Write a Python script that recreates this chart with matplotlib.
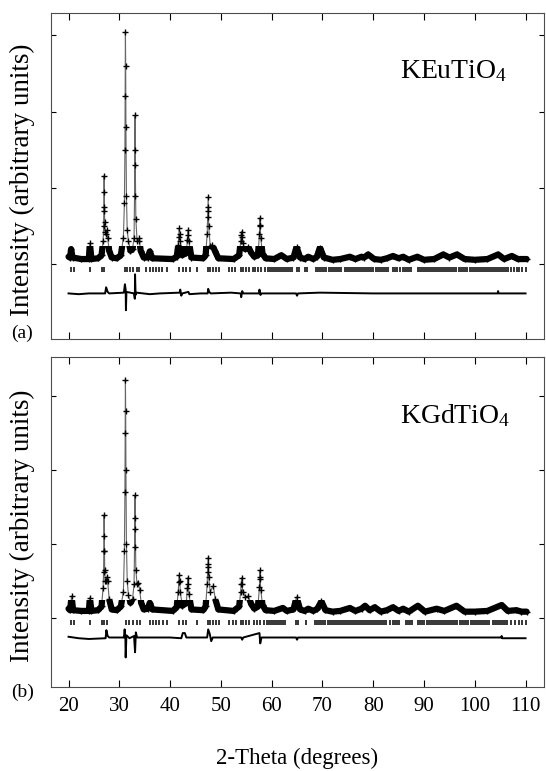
import matplotlib
matplotlib.use("Agg")
import matplotlib.pyplot as plt
from matplotlib.patches import Rectangle

plt.rcParams['font.family'] = 'Liberation Serif'
plt.rcParams['mathtext.fontset'] = 'custom'
plt.rcParams['mathtext.rm'] = 'Liberation Serif'
plt.rcParams['mathtext.default'] = 'rm'

eu_obs = [(20.0, 0.10), (20.3, 0.09), (20.5, 0.20), (20.8, 0.09), (22.5, 0.07), (24.0, 0.07),
          (24.2, 0.28), (24.5, 0.07), (25.8, 0.08), (26.5, 0.12), (26.8, 0.30), (26.9, 0.50),
          (26.95, 0.75), (27.0, 1.16), (27.04, 0.95), (27.08, 0.70), (27.12, 0.55), (27.2, 0.42),
          (27.4, 0.40), (27.5, 0.45), (27.7, 0.35), (28.0, 0.18), (28.5, 0.09), (29.5, 0.08),
          (30.3, 0.12), (30.8, 0.35), (31.0, 0.80), (31.1, 1.50), (31.15, 2.20), (31.2, 3.04),
          (31.25, 2.60), (31.3, 1.80), (31.4, 0.90), (31.55, 0.45), (31.8, 0.30), (32.2, 0.18),
          (32.6, 0.20), (32.9, 0.35), (33.0, 0.90), (33.05, 1.50), (33.1, 1.95), (33.15, 1.30),
          (33.25, 0.60), (33.5, 0.30), (33.8, 0.30), (33.9, 0.34), (34.2, 0.18), (34.8, 0.09),
          (35.6, 0.09), (36.0, 0.17), (36.5, 0.08), (40.5, 0.07), (41.3, 0.10), (41.6, 0.25),
          (41.7, 0.36), (41.8, 0.47), (41.9, 0.40), (42.0, 0.30), (42.4, 0.12), (43.2, 0.15),
          (43.4, 0.32), (43.5, 0.45), (43.6, 0.38), (43.7, 0.30), (44.2, 0.09), (46.5, 0.08),
          (47.0, 0.12), (47.3, 0.40), (47.4, 0.62), (47.45, 0.75), (47.5, 0.88), (47.55, 0.70),
          (47.6, 0.50), (47.9, 0.24), (48.3, 0.26), (48.8, 0.18), (49.5, 0.08), (52.5, 0.07),
          (53.6, 0.12), (53.9, 0.30), (54.0, 0.38), (54.1, 0.43), (54.2, 0.36), (54.3, 0.28),
          (54.8, 0.20), (55.4, 0.23), (56.0, 0.15), (56.6, 0.10), (57.3, 0.12), (57.6, 0.40),
          (57.65, 0.52), (57.7, 0.61), (57.75, 0.50), (57.85, 0.35), (58.2, 0.14), (58.8, 0.08),
          (60.5, 0.07), (61.9, 0.12), (63.0, 0.07), (64.3, 0.09), (64.9, 0.23), (65.6, 0.09),
          (66.5, 0.07), (67.2, 0.10), (68.2, 0.07), (68.9, 0.10), (69.5, 0.22), (70.3, 0.09),
          (72.0, 0.06), (73.5, 0.07), (75.4, 0.10), (76.5, 0.07), (77.7, 0.10), (78.2, 0.09),
          (79.0, 0.13), (80.2, 0.07), (81.5, 0.06), (82.7, 0.08), (83.9, 0.11), (85.0, 0.08),
          (85.9, 0.10), (87.0, 0.06), (88.7, 0.10), (90.0, 0.06), (92.0, 0.07), (93.8, 0.13),
          (95.0, 0.09), (96.5, 0.13), (98.0, 0.07), (100.0, 0.06), (102.5, 0.07), (104.6, 0.13),
          (105.8, 0.07), (107.3, 0.11), (108.5, 0.07), (110.2, 0.07)]
eu_diff = [(20.0, -0.38), (22.0, -0.39), (24.0, -0.38), (27.2, -0.38), (27.4, -0.30), (27.7, -0.36),
           (28.0, -0.38), (30.9, -0.37), (31.1, -0.26), (31.25, -0.33), (31.3, -0.60), (31.4, -0.36),
           (32.9, -0.38), (33.05, -0.45), (33.1, -0.13), (33.2, -0.40), (33.4, -0.37), (36.0, -0.39),
           (38.0, -0.38), (41.9, -0.37), (42.0, -0.33), (42.2, -0.41), (42.4, -0.38), (43.6, -0.36),
           (43.8, -0.39), (46.0, -0.38), (47.4, -0.38), (47.5, -0.32), (47.7, -0.36), (48.0, -0.38),
           (52.0, -0.37), (53.9, -0.38), (54.0, -0.43), (54.2, -0.35), (54.4, -0.38), (57.5, -0.38),
           (57.6, -0.33), (57.8, -0.40), (58.0, -0.38), (64.8, -0.38), (65.0, -0.41), (65.2, -0.38),
           (69.5, -0.37), (80.0, -0.38), (90.0, -0.38), (104.5, -0.38), (104.6, -0.35),
           (104.7, -0.38), (110.0, -0.38)]
eu_refl = [20.4, 21.1, 24.2, 26.5, 27.0, 31.1, 31.6, 32.2, 32.6, 33.4, 33.8, 35.2, 36.0, 36.7, 37.3,
           37.9, 38.5, 39.3, 41.8, 42.5, 43.2, 44.0, 45.3, 47.4, 47.8, 48.4, 49.0, 49.6, 51.6, 52.1,
           52.8, 53.9, 54.3, 54.9, 55.5, 56.3, 56.8, 57.4, 57.9, 58.6, 59.2, 59.6, 60.0, 60.4, 60.8,
           61.2, 61.6, 62.0, 62.4, 62.8, 63.2, 63.6, 64.0, 64.9, 65.3, 66.5, 67.0, 68.8, 69.2, 69.6,
           70.0, 70.4, 70.8, 71.2, 71.6, 72.0, 72.4, 72.8, 73.2, 73.6, 74.4, 74.8, 75.2, 75.6, 76.0,
           76.4, 76.8, 77.2, 77.6, 78.0, 78.4, 78.8, 79.2, 79.6, 80.0, 80.6, 81.0, 81.4, 81.8, 82.2,
           82.6, 83.0, 83.9, 84.3, 84.7, 85.2, 85.9, 86.3, 86.7, 87.1, 87.5, 88.8, 89.2, 89.6, 90.0,
           90.4, 90.8, 91.2, 91.6, 92.0, 92.4, 92.8, 93.2, 93.6, 94.0, 94.4, 94.8, 95.2, 95.6, 96.0,
           96.4, 96.8, 97.2, 97.6, 98.0, 98.4, 99.0, 99.4, 99.8, 100.2, 100.6, 101.0, 101.4, 101.8,
           102.2, 102.6, 103.0, 103.4, 103.8, 104.2, 104.6, 105.0, 105.4, 105.8, 106.2, 106.6, 107.1,
           107.7, 108.3, 108.7, 109.3, 110.0]

# --- KGdTiO4
gd_obs = [(20.0, 0.12), (20.3, 0.10), (20.6, 0.29), (20.9, 0.10), (22.5, 0.09), (24.0, 0.09),
          (24.2, 0.27), (24.5, 0.09), (25.8, 0.10), (26.5, 0.15), (26.8, 0.40), (26.9, 0.62),
          (26.95, 0.90), (27.0, 1.39), (27.04, 1.10), (27.08, 0.90), (27.12, 0.65), (27.2, 0.50),
          (27.4, 0.50), (27.5, 0.55), (27.7, 0.50), (28.0, 0.25), (28.5, 0.11), (29.5, 0.10),
          (30.3, 0.15), (30.8, 0.35), (31.0, 0.90), (31.1, 1.70), (31.15, 2.50), (31.2, 3.22),
          (31.25, 2.80), (31.3, 2.00), (31.4, 1.00), (31.55, 0.50), (31.8, 0.30), (32.2, 0.20),
          (32.6, 0.25), (32.9, 0.45), (33.0, 0.95), (33.05, 1.35), (33.1, 1.66), (33.15, 1.20),
          (33.25, 0.65), (33.5, 0.45), (33.7, 0.47), (34.0, 0.38), (34.3, 0.20), (34.8, 0.11),
          (35.6, 0.12), (36.0, 0.20), (36.5, 0.11), (40.5, 0.09), (41.3, 0.14), (41.6, 0.35),
          (41.7, 0.48), (41.8, 0.58), (41.9, 0.50), (42.0, 0.35), (42.4, 0.16), (43.2, 0.20),
          (43.4, 0.40), (43.5, 0.54), (43.6, 0.45), (43.7, 0.32), (44.2, 0.11), (46.5, 0.10),
          (47.0, 0.15), (47.3, 0.45), (47.4, 0.62), (47.45, 0.72), (47.5, 0.81), (47.55, 0.68),
          (47.6, 0.55), (47.9, 0.35), (48.5, 0.43), (48.9, 0.25), (49.5, 0.11), (52.5, 0.09),
          (53.6, 0.15), (53.9, 0.35), (54.0, 0.45), (54.1, 0.54), (54.2, 0.45), (54.3, 0.35),
          (54.8, 0.28), (55.4, 0.29), (56.0, 0.18), (56.6, 0.12), (57.3, 0.15), (57.6, 0.42),
          (57.65, 0.55), (57.7, 0.64), (57.75, 0.52), (57.85, 0.38), (58.2, 0.17), (58.8, 0.10),
          (60.5, 0.09), (62.2, 0.13), (63.0, 0.09), (64.3, 0.11), (64.9, 0.28), (65.6, 0.11),
          (66.5, 0.09), (67.2, 0.12), (68.2, 0.09), (69.0, 0.12), (69.8, 0.22), (70.6, 0.10),
          (72.0, 0.08), (73.5, 0.09), (75.4, 0.13), (76.5, 0.09), (77.7, 0.12), (78.4, 0.16),
          (79.3, 0.10), (80.3, 0.14), (81.5, 0.08), (82.7, 0.10), (83.9, 0.14), (85.0, 0.09),
          (85.9, 0.12), (87.0, 0.08), (88.8, 0.16), (90.2, 0.08), (92.5, 0.12), (94.0, 0.09),
          (96.4, 0.16), (98.0, 0.08), (100.0, 0.08), (102.5, 0.09), (105.3, 0.17), (106.5, 0.09),
          (108.2, 0.10), (109.2, 0.08), (110.2, 0.08)]
gd_diff = [(20.0, -0.26), (22.0, -0.28), (24.0, -0.29), (27.3, -0.28), (27.45, -0.17), (27.7, -0.25),
           (28.0, -0.27), (30.9, -0.27), (31.05, -0.16), (31.2, -0.30), (31.25, -0.54), (31.4, -0.24),
           (32.0, -0.28), (32.9, -0.25), (33.1, -0.47), (33.25, -0.20), (33.5, -0.27), (40.0, -0.27),
           (42.2, -0.28), (42.5, -0.21), (42.9, -0.21), (43.2, -0.27), (47.3, -0.27), (47.5, -0.16),
           (47.8, -0.22), (48.1, -0.32), (48.4, -0.27), (54.0, -0.27), (54.2, -0.30), (54.4, -0.27),
           (57.6, -0.21), (57.75, -0.35), (58.0, -0.27), (64.8, -0.27), (65.0, -0.30), (65.2, -0.27),
           (80.0, -0.27), (105.2, -0.27), (105.3, -0.25), (105.4, -0.28), (110.0, -0.28)]
gd_refl = [20.4, 21.1, 24.2, 26.5, 27.0, 27.5, 31.3, 31.9, 32.6, 33.4, 34.0, 36.0, 36.6, 37.2, 37.9,
           38.6, 39.3, 41.8, 42.5, 43.2, 45.3, 47.4, 47.8, 48.4, 49.0, 49.6, 51.6, 52.3, 52.9, 54.0,
           54.4, 55.0, 55.6, 56.6, 57.2, 57.8, 58.4, 59.0, 59.4, 59.8, 60.2, 60.6, 61.0, 61.4, 61.8,
           62.2, 62.6, 64.8, 65.2, 66.8, 68.6, 69.0, 69.4, 69.8, 70.2, 70.6, 71.0, 71.4, 71.8, 72.2,
           72.6, 73.0, 73.4, 73.8, 74.2, 74.6, 75.0, 75.4, 75.8, 76.2, 76.6, 77.0, 77.4, 77.8, 78.2,
           78.6, 79.0, 79.4, 79.8, 80.2, 80.6, 81.0, 81.4, 81.8, 82.2, 82.6, 83.4, 83.8, 84.2, 84.6,
           85.0, 86.4, 86.8, 87.2, 87.6, 88.9, 89.3, 89.7, 90.1, 90.5, 91.0, 91.4, 91.8, 92.2, 92.6,
           93.0, 93.4, 93.8, 94.2, 94.6, 95.0, 95.4, 95.8, 96.2, 96.6, 97.0, 97.4, 97.8, 98.2, 98.6,
           99.2, 99.6, 100.0, 100.4, 100.8, 101.2, 101.6, 102.0, 102.4, 102.8, 103.5, 104.0, 104.4,
           104.8, 105.2, 105.6, 106.0, 106.4, 107.2, 108.0, 108.8, 109.4, 110.0]

panels = [
    (eu_obs, eu_diff, eu_refl, 'KEuTiO$_4$', 3.29, -0.98),
    (gd_obs, gd_diff, gd_refl, 'KGdTiO$_4$', 3.53, -0.94),
]

fig = plt.figure(figsize=(5.46, 7.71), dpi=100)
ax_a = fig.add_axes([0.093, 0.560, 0.903, 0.423])
ax_b = fig.add_axes([0.093, 0.109, 0.903, 0.428])

for ax, (obs, diff, refl, name, ytop, ybot) in zip([ax_a, ax_b], panels):
    x, y = zip(*obs)
    dx, dy = zip(*diff)
    # calculated profile (thin grey), observed points on top
    ax.plot(x, y, color='0.4', lw=0.8, zorder=1)
    # dense observed points merge into a thick band near the background
    band, = ax.plot(x, y, color='black', lw=4.5, solid_joinstyle='round',
                    solid_capstyle='round', zorder=2)
    band.set_clip_path(Rectangle((15, -1), 100, 1.24, transform=ax.transData))
    ax.plot(x, y, ls='none', marker='+', ms=5, mew=1.0, color='black', zorder=3)
    # reflection markers
    ax.vlines(refl, -0.10, -0.035, color='black', lw=1.1)
    # difference curve
    ax.plot(dx, dy, color='black', lw=1.4)

    ax.set_xlim(16.5, 113.6)
    ax.set_ylim(ybot, ytop)
    ax.set_xticks(range(20, 111, 10))
    ax.set_yticks([0, 1, 2, 3])
    ax.tick_params(direction='in', top=True, right=True, length=5, width=0.8,
                   labelleft=False, labelsize=15, pad=7)
    ax.tick_params(axis='y', length=3.5)
    for s in ax.spines.values():
        s.set_linewidth(0.8)
        s.set_color('0.3')

    ax.text(0.708, 0.80, name, transform=ax.transAxes, fontsize=20, ha='left', va='baseline')
    ax.text(-0.057, 0.49, 'Intensity (arbitrary units)', transform=ax.transAxes,
            rotation=90, ha='center', va='center', fontsize=19.5)

ax_a.tick_params(labelbottom=False)
fig.text(0.040, 1 - 333 / 771, '(a)', ha='center', va='center', fontsize=14)
fig.text(0.041, 1 - 692 / 771, '(b)', ha='center', va='center', fontsize=14)
fig.text(0.544, 1 - 758 / 771, '2-Theta (degrees)', ha='center', va='center', fontsize=16.5)

fig.savefig('out.png', dpi=100)
